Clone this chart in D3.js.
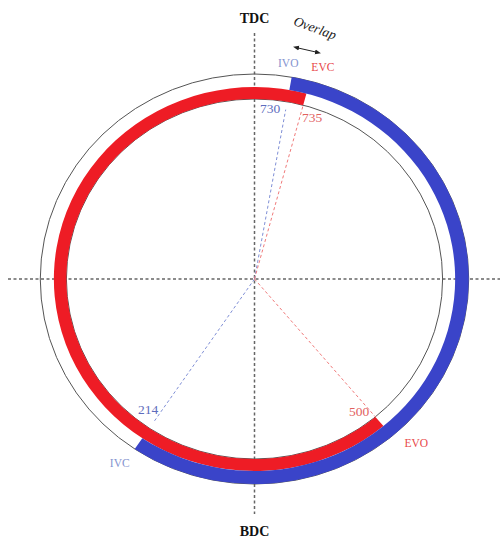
<!DOCTYPE html>
<html>
<head>
<meta charset="utf-8">
<script src="https://cdn.jsdelivr.net/npm/d3@7"></script>
<style>
  html, body { margin: 0; padding: 0; background: #fff; }
  svg { display: block; }
  text { font-family: "Liberation Serif", "DejaVu Serif", serif; }
</style>
</head>
<body>
<div id="chart"></div>
<script>
// ---- data ----
const eventNames  = ["IVO", "EVC", "IVC", "EVO"];
const eventAngles = [730, 735, 214, 500];          // crank angle, degrees
const eventLabels = ["730", "735", "214", "500"];
const eventValve  = ["intake", "exhaust", "intake", "exhaust"];
const intakeOpen  = [730, 934];   // IVO -> IVC (214 of next cycle)
const exhaustOpen = [500, 735];   // EVO -> EVC
const axisLabels  = ["TDC", "BDC"];
const overlapLabel = "Overlap";

// ---- layout ----
const W = 504, H = 537;
const cx = 254.5, cy = 279;
const sx = 1.045;                 // slight horizontal stretch of the diagram
const rInner = 180, rMid = 192, rOuter = 205;

const svg = d3.select("#chart").append("svg")
  .attr("width", W).attr("height", H);

const angle = d3.scaleLinear().domain([0, 360]).range([0, 2 * Math.PI]);
const polar = (deg, r) => {
  const a = angle(deg % 360);
  return [cx + r * Math.sin(a) * sx, cy - r * Math.cos(a)];
};

// axes (dashed crosshair)
const axisColor = "#666";
svg.append("line").attr("x1", cx).attr("x2", cx).attr("y1", 33).attr("y2", 514)
  .attr("stroke", axisColor).attr("stroke-width", 1.5).attr("stroke-dasharray", "3,2.5");
svg.append("line").attr("x1", 8).attr("x2", 500).attr("y1", cy).attr("y2", cy)
  .attr("stroke", axisColor).attr("stroke-width", 1.5).attr("stroke-dasharray", "3,2.5");

const g = svg.append("g").attr("transform", `translate(${cx},${cy}) scale(${sx},1)`);

// thin reference circles
[rInner, rOuter].forEach(r => {
  g.append("circle").attr("r", r).attr("fill", "none")
    .attr("stroke", "#555").attr("stroke-width", 1)
    .attr("vector-effect", "non-scaling-stroke");
});

// valve open bands
const arc = d3.arc();
const angOf = v => angle(v - 720 >= 0 ? v - 720 : v - 360);
g.append("path")
  .attr("d", arc({innerRadius: rInner, outerRadius: rMid,
                  startAngle: angle(exhaustOpen[0] - 360), endAngle: angle(exhaustOpen[1] - 360)}))
  .attr("fill", "#ee1c25");
g.append("path")
  .attr("d", arc({innerRadius: rMid, outerRadius: rOuter,
                  startAngle: angle(intakeOpen[0] - 720), endAngle: angle(intakeOpen[1] - 720)}))
  .attr("fill", "#3a44c9");

// radial dashed lines
const lineColor = {intake: "#7f8fd6", exhaust: "#f07a7a"};
const lineLen = [172, 180, 172, 180];
eventAngles.forEach((a, i) => {
  const p = polar(a, lineLen[i]);
  svg.append("line").attr("x1", cx).attr("y1", cy).attr("x2", p[0]).attr("y2", p[1])
    .attr("stroke", lineColor[eventValve[i]]).attr("stroke-width", 1)
    .attr("stroke-dasharray", "3,2.5");
});

// numeric labels
const numColor = {intake: "#5d6cbd", exhaust: "#e2625f"};
const numPos = [[173.6, -16], [166.7, 12.5], [158, -14], [173.6, -12]];
eventAngles.forEach((a, i) => {
  const p = polar(a, numPos[i][0]);
  svg.append("text").attr("x", p[0] + numPos[i][1]).attr("y", p[1])
    .attr("text-anchor", "middle").attr("dominant-baseline", "central")
    .attr("font-size", 13.5).attr("fill", numColor[eventValve[i]])
    .text(eventLabels[i]);
});

// event name labels
const nameColor = {intake: "#8494cf", exhaust: "#e8484a"};
const namePos = [[219, -6], [219.5, 9], [222, -5], [214, 18]];
eventAngles.forEach((a, i) => {
  const p = polar(a, namePos[i][0]);
  svg.append("text").attr("x", p[0] + namePos[i][1]).attr("y", p[1])
    .attr("text-anchor", "middle").attr("dominant-baseline", "central")
    .attr("font-size", 11.5).attr("fill", nameColor[eventValve[i]])
    .text(eventNames[i]);
});

// TDC / BDC
svg.append("text").attr("x", cx).attr("y", 18)
  .attr("text-anchor", "middle").attr("dominant-baseline", "central")
  .attr("font-size", 14).attr("font-weight", "bold").attr("fill", "#111")
  .text(axisLabels[0]);
svg.append("text").attr("x", cx).attr("y", 531)
  .attr("text-anchor", "middle").attr("dominant-baseline", "central")
  .attr("font-size", 14).attr("font-weight", "bold").attr("fill", "#111")
  .text(axisLabels[1]);

// Overlap label with double arrow
svg.append("text").attr("transform", "translate(315,28) rotate(20)")
  .attr("text-anchor", "middle").attr("dominant-baseline", "central")
  .attr("font-size", 13.5).attr("font-style", "italic").attr("fill", "#222")
  .text(overlapLabel);

const defs = svg.append("defs");
["s", "e"].forEach(k => {
  defs.append("marker").attr("id", "arr" + k)
    .attr("viewBox", "0 0 10 10").attr("refX", 5).attr("refY", 5)
    .attr("markerWidth", 6).attr("markerHeight", 6)
    .attr("orient", k === "e" ? "auto" : "auto-start-reverse")
    .append("path").attr("d", "M0,1 L10,5 L0,9 z").attr("fill", "#222");
});
svg.append("line").attr("x1", 296).attr("y1", 47.5).attr("x2", 318).attr("y2", 52.5)
  .attr("stroke", "#222").attr("stroke-width", 1)
  .attr("marker-start", "url(#arrs)").attr("marker-end", "url(#arre)");
</script>
</body>
</html>
